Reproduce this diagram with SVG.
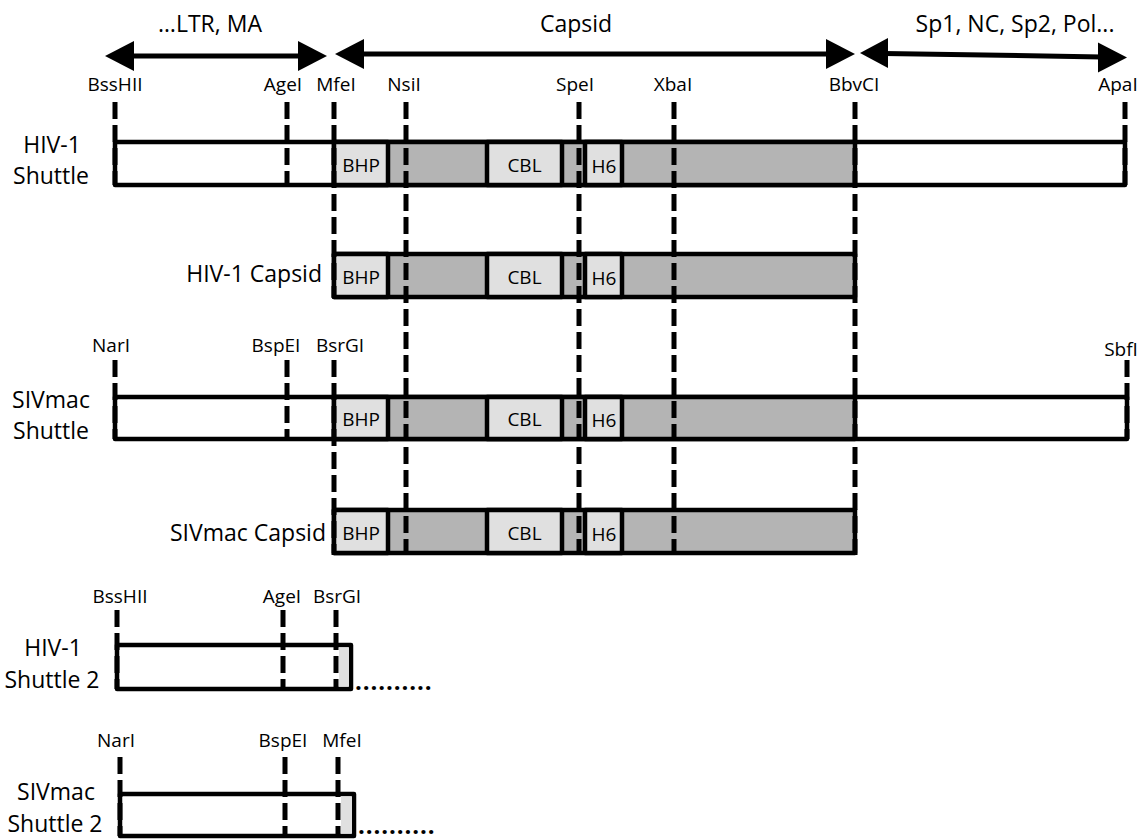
<svg xmlns="http://www.w3.org/2000/svg" width="1146" height="839" viewBox="0 0 1146 839">
<style>
text{font-family:"Open Sans","Liberation Sans",sans-serif;fill:#000}
.big{font-size:23px}
.sm{font-size:19px}
.mid{text-anchor:middle}
.end{text-anchor:end}
.box{stroke:#000;stroke-width:4.5;stroke-linejoin:round}
.wh{fill:#fff}
.gr{fill:#b4b4b4}
.lt{fill:#e0e0e0}
.site{stroke:#000;stroke-width:5;stroke-dasharray:17 6;fill:none}
.arr{stroke:#000;stroke-width:5}
.dots{font-size:24px;letter-spacing:0.9px;font-weight:bold}
</style>
<rect width="1146" height="839" fill="#fff"/>

<g id="regions">
  <text class="big mid" x="210" y="32">…LTR, MA</text>
  <text class="big mid" x="576" y="32">Capsid</text>
  <text class="big mid" x="1015" y="32">Sp1, NC, Sp2, Pol...</text>
</g>

<g id="connectors">
  <line class="arr" x1="130" y1="56" x2="302" y2="56"/>
  <polygon points="105,56 134,41 134,71"/>
  <polygon points="327,56 298,41 298,71"/>
  <line class="arr" x1="360" y1="54" x2="830" y2="54"/>
  <polygon points="335,54 364,39 364,69"/>
  <polygon points="855,54 826,39 826,69"/>
  <line class="arr" x1="884" y1="53.4" x2="1102" y2="57"/>
  <polygon points="860,53 888,38 888,68"/>
  <polygon points="1127,57.5 1098,42.5 1098,72.5"/>
</g>

<g id="hiv1-shuttle">
  <text class="big mid" x="52" y="153">HIV-1</text>
  <text class="big mid" x="51" y="184">Shuttle</text>
  <rect class="box wh" x="115" y="142" width="1010" height="43"/>
  <rect class="box gr" x="334" y="142" width="521" height="43"/>
  <rect class="box lt" x="334" y="142" width="54" height="43"/>
  <rect class="box lt" x="487" y="142" width="75" height="43"/>
  <rect class="box lt" x="585" y="142" width="37" height="43"/>
  <text class="sm mid" x="361" y="172">BHP</text>
  <text class="sm mid" x="524.5" y="172">CBL</text>
  <text class="sm mid" x="604" y="173">H6</text>
</g>

<g id="hiv1-capsid">
  <text class="big end" x="322" y="282">HIV-1 Capsid</text>
  <rect class="box gr" x="334" y="254" width="521" height="43"/>
  <rect class="box lt" x="334" y="254" width="54" height="43"/>
  <rect class="box lt" x="487" y="254" width="75" height="43"/>
  <rect class="box lt" x="585" y="254" width="37" height="43"/>
  <text class="sm mid" x="361" y="284">BHP</text>
  <text class="sm mid" x="524.5" y="284">CBL</text>
  <text class="sm mid" x="604" y="285">H6</text>
</g>

<g id="sivmac-shuttle">
  <text class="big mid" x="51" y="408">SIVmac</text>
  <text class="big mid" x="51" y="439">Shuttle</text>
  <rect class="box wh" x="115" y="397" width="1012" height="42"/>
  <rect class="box gr" x="334" y="397" width="521" height="42"/>
  <rect class="box lt" x="334" y="397" width="54" height="42"/>
  <rect class="box lt" x="487" y="397" width="75" height="42"/>
  <rect class="box lt" x="585" y="397" width="37" height="42"/>
  <text class="sm mid" x="361" y="426">BHP</text>
  <text class="sm mid" x="524.5" y="426">CBL</text>
  <text class="sm mid" x="604" y="427">H6</text>
</g>

<g id="sivmac-capsid">
  <text class="big end" x="326" y="541">SIVmac Capsid</text>
  <rect class="box gr" x="334" y="510" width="521" height="43"/>
  <rect class="box lt" x="334" y="510" width="54" height="43"/>
  <rect class="box lt" x="487" y="510" width="75" height="43"/>
  <rect class="box lt" x="585" y="510" width="37" height="43"/>
  <text class="sm mid" x="361" y="540">BHP</text>
  <text class="sm mid" x="524.5" y="540">CBL</text>
  <text class="sm mid" x="604" y="541">H6</text>
</g>

<g id="hiv1-shuttle2">
  <text class="big mid" x="53" y="656">HIV-1</text>
  <text class="big mid" x="52" y="688">Shuttle 2</text>
  <rect class="box wh" x="117" y="645" width="234" height="44"/>
  <rect class="lt" x="339" y="647.5" width="10" height="39"/>
  <text class="dots" x="355" y="690">..........</text>
</g>

<g id="sivmac-shuttle2">
  <text class="big mid" x="56" y="800">SIVmac</text>
  <text class="big mid" x="55" y="832">Shuttle 2</text>
  <rect class="box wh" x="120" y="794" width="234" height="42"/>
  <rect class="lt" x="341" y="796.5" width="11" height="37"/>
  <text class="dots" x="358" y="834">..........</text>
</g>

<g id="sites">
  <text class="sm mid" x="115" y="91">BssHII</text>
  <text class="sm mid" x="283" y="91">AgeI</text>
  <text class="sm mid" x="336" y="91">MfeI</text>
  <text class="sm mid" x="404" y="91">NsiI</text>
  <text class="sm mid" x="575" y="91">SpeI</text>
  <text class="sm mid" x="673" y="91">XbaI</text>
  <text class="sm mid" x="854" y="91">BbvCI</text>
  <text class="sm mid" x="1118" y="91">ApaI</text>
  <line class="site" x1="115" y1="102" x2="115" y2="185"/>
  <line class="site" x1="287" y1="102" x2="287" y2="185"/>
  <line class="site" x1="334" y1="102" x2="334" y2="298"/>
  <line class="site" x1="406" y1="102" x2="406" y2="555"/>
  <line class="site" x1="579" y1="102" x2="579" y2="555"/>
  <line class="site" x1="674" y1="102" x2="674" y2="555"/>
  <line class="site" x1="855" y1="102" x2="855" y2="555"/>
  <line class="site" x1="1125" y1="102" x2="1125" y2="185"/>

  <text class="sm mid" x="111" y="352">NarI</text>
  <text class="sm mid" x="276" y="352">BspEI</text>
  <text class="sm mid" x="340" y="352">BsrGI</text>
  <text class="sm mid" x="1121" y="356">SbfI</text>
  <line class="site" x1="115" y1="360" x2="115" y2="439"/>
  <line class="site" x1="287" y1="360" x2="287" y2="439"/>
  <line class="site" x1="334" y1="360" x2="334" y2="555"/>
  <line class="site" x1="1127" y1="360" x2="1127" y2="439"/>

  <text class="sm mid" x="120" y="603">BssHII</text>
  <text class="sm mid" x="282" y="603">AgeI</text>
  <text class="sm mid" x="337" y="603">BsrGI</text>
  <line class="site" x1="117" y1="610" x2="117" y2="689"/>
  <line class="site" x1="283" y1="610" x2="283" y2="689"/>
  <line class="site" x1="336" y1="610" x2="336" y2="689"/>

  <text class="sm mid" x="116" y="747">NarI</text>
  <text class="sm mid" x="283" y="747">BspEI</text>
  <text class="sm mid" x="342" y="747">MfeI</text>
  <line class="site" x1="120" y1="757" x2="120" y2="836"/>
  <line class="site" x1="285" y1="757" x2="285" y2="836"/>
  <line class="site" x1="338" y1="757" x2="338" y2="836"/>
</g>
</svg>
